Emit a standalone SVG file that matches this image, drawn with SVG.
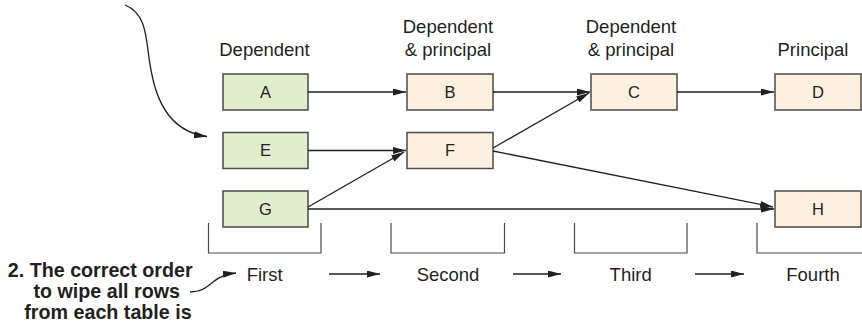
<svg xmlns="http://www.w3.org/2000/svg" width="862" height="324" viewBox="0 0 862 324">
<style>
.bg{fill:#ffffff}
.dep{fill:#e2edcd;stroke:#4a4a4a;stroke-width:1.5}
.pri{fill:#fdf0df;stroke:#4a4a4a;stroke-width:1.5}
.lbl{font-family:"Liberation Sans",Arial,sans-serif;font-size:18.5px;fill:#231f20;text-anchor:middle}
.nt{font-family:"Liberation Sans",Arial,sans-serif;font-size:16.5px;fill:#231f20;text-anchor:middle}
.note{font-family:"Liberation Sans",Arial,sans-serif;font-size:19.7px;font-weight:bold;fill:#231f20;text-anchor:end}
.c{fill:none;stroke:#231f20;stroke-width:1.3}
.br{fill:none;stroke:#4a4a4a;stroke-width:1.2}
</style>
<defs>
<marker id="ah" viewBox="0 0 13 7" refX="13" refY="3.5" markerWidth="13" markerHeight="7" markerUnits="userSpaceOnUse" orient="auto">
<path d="M0,0 L13,3.5 L0,7 Z" fill="#231f20"/>
</marker>
</defs>
<rect class="bg" x="0" y="0" width="862" height="324"/>

<g id="column-labels">
<text class="lbl" x="264.5" y="56">Dependent</text>
<text class="lbl" x="448" y="32.5">Dependent</text>
<text class="lbl" x="448" y="56">&amp; principal</text>
<text class="lbl" x="631" y="32.5">Dependent</text>
<text class="lbl" x="631" y="56">&amp; principal</text>
<text class="lbl" x="813" y="56">Principal</text>
</g>

<g id="node-A"><rect class="dep" x="223" y="74" width="85" height="36"/><text class="nt" x="265.5" y="97.8">A</text></g>
<g id="node-E"><rect class="dep" x="223" y="132.5" width="85" height="36"/><text class="nt" x="265.5" y="156.3">E</text></g>
<g id="node-G"><rect class="dep" x="223" y="191" width="85" height="36"/><text class="nt" x="265.5" y="214.8">G</text></g>
<g id="node-B"><rect class="pri" x="407" y="74" width="86" height="36"/><text class="nt" x="450" y="97.8">B</text></g>
<g id="node-F"><rect class="pri" x="407" y="132.5" width="86" height="36"/><text class="nt" x="450" y="156.3">F</text></g>
<g id="node-C"><rect class="pri" x="591" y="74" width="86" height="36"/><text class="nt" x="634" y="97.8">C</text></g>
<g id="node-D"><rect class="pri" x="775" y="74" width="86" height="36"/><text class="nt" x="818" y="97.8">D</text></g>
<g id="node-H"><rect class="pri" x="775" y="191" width="86" height="36"/><text class="nt" x="818" y="214.8">H</text></g>

<g id="connectors">
<path class="c" marker-end="url(#ah)" d="M308,92 H406"/>
<path class="c" marker-end="url(#ah)" d="M493,92 H590"/>
<path class="c" marker-end="url(#ah)" d="M677,92 H774"/>
<path class="c" marker-end="url(#ah)" d="M308,150.5 H406"/>
<path class="c" marker-end="url(#ah)" d="M493,148 L589,93"/>
<path class="c" marker-end="url(#ah)" d="M493,151 L773,207"/>
<path class="c" marker-end="url(#ah)" d="M308,207 L404,152"/>
<path class="c" marker-end="url(#ah)" d="M308,209 H774"/>
<path class="c" marker-end="url(#ah)" d="M329,274 H380"/>
<path class="c" marker-end="url(#ah)" d="M513,274 H561"/>
<path class="c" marker-end="url(#ah)" d="M695,274 H744"/>
<path class="c" marker-end="url(#ah)" d="M125,5 C150,15 145,45 152,75 C160,115 180,133 207,136.5"/>
<path class="c" marker-end="url(#ah)" d="M190,292 C202,292 207,287 213,282 C219,277 225,274 236,273"/>
</g>

<g id="brackets">
<path class="br" d="M208.5,223 V253 H321 V223"/>
<path class="br" d="M391,223 V253 H504.5 V223"/>
<path class="br" d="M574.5,223 V253 H687 V223"/>
<path class="br" d="M757,223 V253 H862"/>
</g>

<g id="order-labels">
<text class="lbl" x="264.7" y="280.5">First</text>
<text class="lbl" x="448" y="280.5">Second</text>
<text class="lbl" x="630.7" y="280.5">Third</text>
<text class="lbl" x="813" y="280.5">Fourth</text>
</g>

<g id="note">
<text class="note" x="192.7" y="276.5">2. The correct order</text>
<text class="note" x="180" y="297.5">to wipe all rows</text>
<text class="note" x="191.7" y="319">from each table is</text>
</g>
</svg>
